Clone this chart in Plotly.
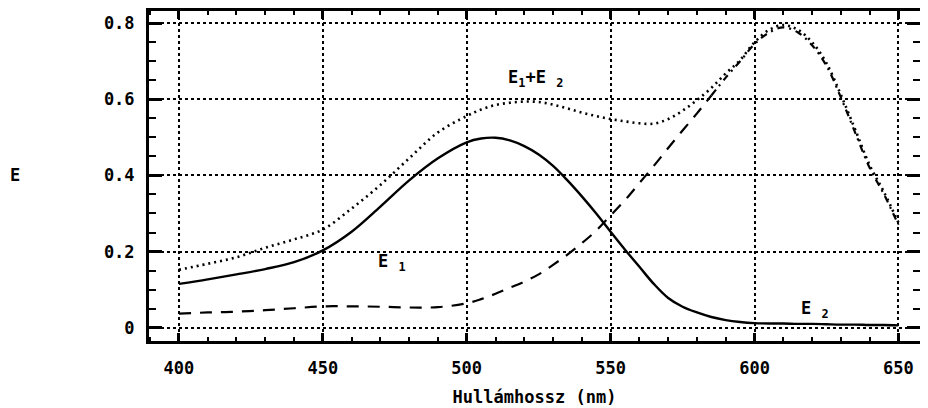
import plotly.graph_objects as go

wavelength = [400, 410, 420, 430, 440, 450, 460, 470, 480, 490, 500, 505, 510, 515, 520, 525,
              530, 535, 540, 545, 550, 555, 560, 565, 570, 575, 580, 585, 590, 595, 600, 605,
              610, 615, 620, 625, 630, 635, 640, 645, 650]
e1 = [0.115, 0.127, 0.140, 0.154, 0.172, 0.203, 0.252, 0.318, 0.387, 0.445, 0.487, 0.497,
      0.499, 0.492, 0.477, 0.455, 0.425, 0.387, 0.345, 0.300, 0.252, 0.205, 0.160, 0.115,
      0.078, 0.055, 0.040, 0.028, 0.020, 0.015, 0.012, 0.011, 0.011, 0.010, 0.010, 0.009,
      0.008, 0.008, 0.007, 0.007, 0.006]
e2 = [0.037, 0.040, 0.042, 0.046, 0.051, 0.056, 0.056, 0.055, 0.053, 0.054, 0.064, 0.075,
      0.089, 0.105, 0.121, 0.140, 0.165, 0.192, 0.222, 0.255, 0.295, 0.335, 0.380, 0.425,
      0.472, 0.518, 0.563, 0.610, 0.657, 0.700, 0.745, 0.775, 0.789, 0.776, 0.742, 0.688,
      0.605, 0.512, 0.420, 0.350, 0.270]
e_sum = [0.152, 0.168, 0.185, 0.210, 0.232, 0.258, 0.313, 0.375, 0.445, 0.513, 0.556, 0.573,
         0.585, 0.591, 0.594, 0.593, 0.586, 0.576, 0.565, 0.556, 0.548, 0.542, 0.537, 0.536,
         0.548, 0.570, 0.598, 0.630, 0.668, 0.703, 0.750, 0.782, 0.795, 0.783, 0.750, 0.695,
         0.612, 0.520, 0.427, 0.356, 0.276]

x_ticks = [400, 450, 500, 550, 600, 650]
y_ticks = [0, 0.2, 0.4, 0.6, 0.8]
y_tick_labels = ["0", "0.2", "0.4", "0.6", "0.8"]
dashdot_from = 585  # E2 is drawn dash-dot beyond this wavelength

FONT = "DejaVu Sans Mono"
FS = 17

fig = go.Figure()
fig.add_trace(go.Scatter(x=wavelength, y=e_sum, mode="lines",
                         line=dict(color="black", width=2.6, dash="2px,4px", shape="spline"),
                         name="E1+E2"))
w_a = [w for w in wavelength if w <= dashdot_from]
e2_a = [v for w, v in zip(wavelength, e2) if w <= dashdot_from]
w_b = [w for w in wavelength if w >= dashdot_from]
e2_b = [v for w, v in zip(wavelength, e2) if w >= dashdot_from]
fig.add_trace(go.Scatter(x=w_a, y=e2_a, mode="lines",
                         line=dict(color="black", width=2.2, dash="12px,9px", shape="spline"),
                         name="E2"))
fig.add_trace(go.Scatter(x=w_b, y=e2_b, mode="lines",
                         line=dict(color="black", width=2.2, dash="7px,5px,2px,5px", shape="spline"),
                         name="E2", showlegend=False))
fig.add_trace(go.Scatter(x=wavelength, y=e1, mode="lines",
                         line=dict(color="black", width=2.4, shape="spline"),
                         name="E1"))

axis_common = dict(
    showline=True, linecolor="black", linewidth=3, mirror="ticks",
    ticks="inside", tickcolor="black", tickwidth=2.5,
    showgrid=True, gridcolor="black", gridwidth=1.6, griddash="dot",
    zeroline=False,
    tickfont=dict(family=FONT, size=FS, color="black", weight="bold"),
)

fig.update_xaxes(range=[389.6, 657.5], tickvals=x_ticks, ticklen=8,
                 minor=dict(dtick=10, ticks="inside", ticklen=4, tickcolor="black", tickwidth=1.8,
                            showgrid=False),
                 ticklabelstandoff=10,
                 title=dict(text="Hullámhossz (nm)", font=dict(family=FONT, size=FS, color="black",
                                                                  weight="bold"), standoff=14),
                 **axis_common)
fig.update_yaxes(range=[-0.035, 0.832], tickvals=y_ticks, ticktext=y_tick_labels, ticklen=13,
                 minor=dict(dtick=0.05, ticks="inside", ticklen=7, tickcolor="black", tickwidth=2,
                            showgrid=False),
                 ticklabelstandoff=8,
                 **axis_common)

ann_font = dict(family=FONT, size=FS, color="black", weight="bold")
fig.add_annotation(x=524, y=0.655, xref="x", yref="y", text="E<sub>1</sub>+E <sub>2</sub>",
                   showarrow=False, font=ann_font)
fig.add_annotation(x=474, y=0.172, xref="x", yref="y", text="E <sub>1</sub>",
                   showarrow=False, font=ann_font)
fig.add_annotation(x=621, y=0.048, xref="x", yref="y", text="E <sub>2</sub>",
                   showarrow=False, font=ann_font)
fig.add_annotation(x=-0.183, y=0.4, xref="paper", yref="y", text="E",
                   showarrow=False, font=ann_font)

fig.update_layout(
    width=928, height=408,
    margin=dict(l=141, r=16, t=0, b=75),
    paper_bgcolor="white", plot_bgcolor="white",
    showlegend=False,
)

fig.write_html("out.html")
